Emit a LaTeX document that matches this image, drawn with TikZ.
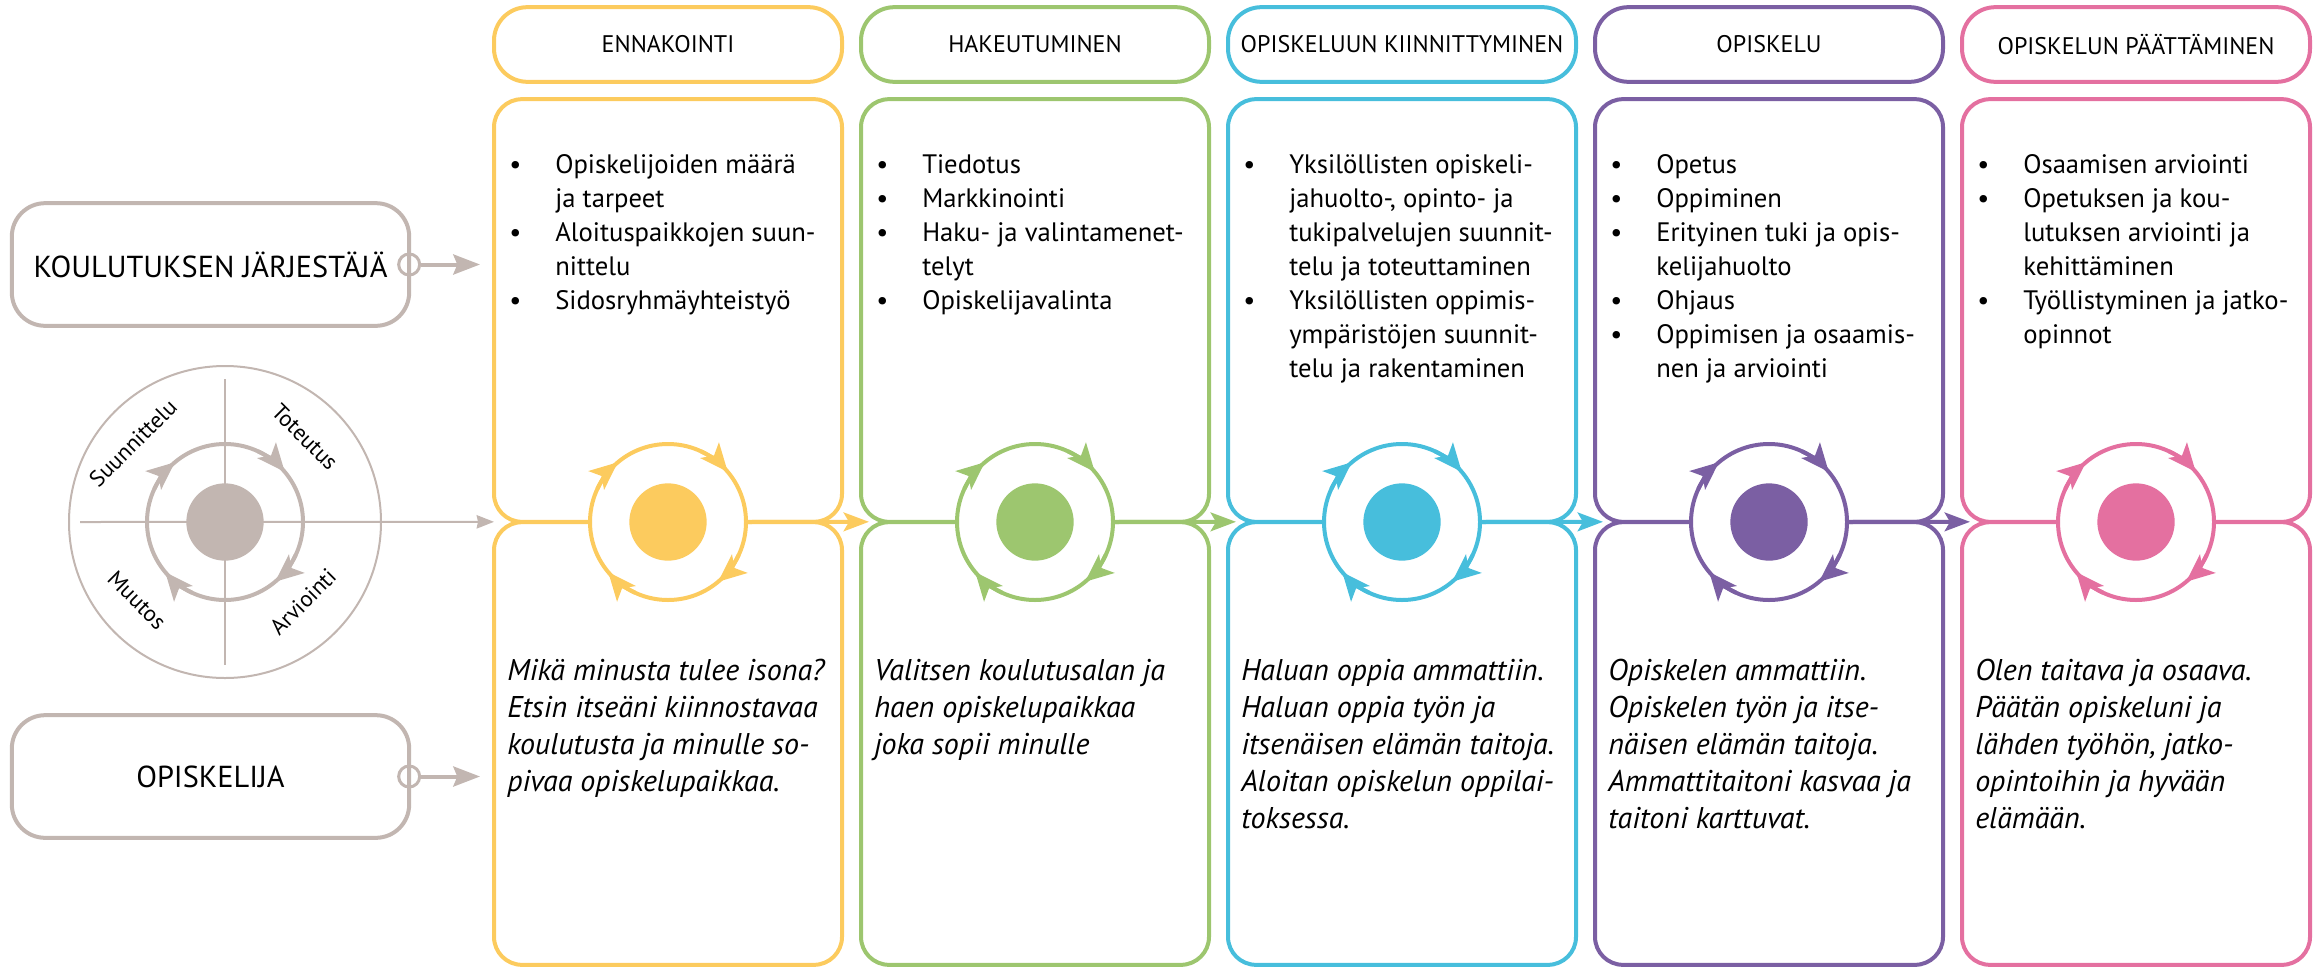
\documentclass[tikz,border=0pt]{standalone}
\usepackage{fontspec}
\setmainfont{PT Sans}
\usetikzlibrary{arrows.meta}

\definecolor{ennacol}{RGB}{252,203,94}
\definecolor{hakucol}{RGB}{157,198,111}
\definecolor{kiincol}{RGB}{71,190,220}
\definecolor{opiscol}{RGB}{123,95,163}
\definecolor{paatcol}{RGB}{228,112,160}
\definecolor{harmaa}{RGB}{194,182,177}

\tikzset{
  otsikko/.style={draw, rounded corners=25pt, line width=3pt, minimum width=261pt, minimum height=56pt, inner sep=0pt, outer sep=0pt, font=\fontsize{18}{22}\selectfont},
  laatikko/.style={draw, rounded corners=21pt, line width=3pt, minimum width=261pt, inner sep=0pt, outer sep=0pt},
  rengas/.style={circle, draw, fill=white, line width=3pt, minimum size=117pt, inner sep=0pt, outer sep=0pt},
  pallo/.style={circle, fill, minimum size=58pt, inner sep=0pt},
  kaari/.style={line width=3pt, -{Stealth[length=21pt,width=18pt,inset=5pt]}},
  nuoli/.style={line width=3pt, -{Stealth[length=19pt,width=14pt,inset=4pt]}, shorten >=-6pt},
  luettelo/.style={anchor=base west, inner sep=0pt, font=\fontsize{20}{25.5}\selectfont},
  kuvaus/.style={anchor=base west, inner sep=0pt, font=\fontsize{22.5}{27.75}\selectfont\itshape},
  toimija/.style={draw=harmaa, rounded corners=25pt, line width=3pt, minimum width=298pt, minimum height=92pt, inner sep=0pt, outer sep=0pt, font=\fontsize{22.75}{26}\selectfont},
  vaihe/.style={inner sep=0pt, font=\fontsize{17}{20}\selectfont},
}

\begin{document}
\begin{tikzpicture}[x=0.75pt,y=0.75pt,yscale=-1,xscale=1]
\useasboundingbox (0,0) rectangle (2323,971);

% vaiheiden sarakkeet
\foreach \k/\x/\vari/\nimi in {1/668/ennacol/ENNAKOINTI, 2/1035/hakucol/HAKEUTUMINEN, 3/1402/kiincol/OPISKELUUN KIINNITTYMINEN, 4/1769/opiscol/OPISKELU, 5/2136/paatcol/OPISKELUN PÄÄTTÄMINEN} {
  \node[otsikko, draw=\vari] (h\k) at (\x,44.5) {\nimi};
  \node[laatikko, draw=\vari, minimum height=317pt] (u\k) at (\x,310.5) {};
  \node[laatikko, draw=\vari, minimum height=332pt] (l\k) at (\x,743.5) {};
  \node[rengas, draw=\vari] (r\k) at (\x,522) {};
  \node[pallo, fill=\vari] (d\k) at (r\k) {};
  \foreach \a in {25,115,205,295}
    \draw[kaari, \vari] ([shift={(\a:78)}]r\k.center) arc[start angle=\a, end angle=\a+25, radius=78];
}

\draw[nuoli, ennacol] (r1.east) -- (u2.south west);
\draw[nuoli, hakucol] (r2.east) -- (u3.south west);
\draw[nuoli, kiincol] (r3.east) -- (u4.south west);
\draw[nuoli, opiscol] (r4.east) -- (u5.south west);

% suunnitteluympyra
\node[circle, draw=harmaa, line width=1.5pt, minimum size=234pt, inner sep=0pt] (pdca) at (225,522) {};
\coordinate (alku) at (80,522);
\draw[harmaa, line width=1.5pt] (225,379) -- (225,665);
\draw[harmaa, line width=1.5pt, -{Stealth[length=13pt,width=10pt,inset=1pt]}] (alku) -- (u1.south west);
\node[rengas, draw=harmaa, fill=none] (r0) at (225,522) {};
\node[pallo, fill=harmaa] (d0) at (r0) {};
\foreach \a in {25,115,205,295}
  \draw[kaari, harmaa] ([shift={(\a:78)}]r0.center) arc[start angle=\a, end angle=\a+25, radius=78];
\node[vaihe, rotate=45] (suun) at (133,443) {Suunnittelu};
\node[vaihe, rotate=-45] (tote) at (305,437) {Toteutus};
\node[vaihe, rotate=-45] (muut) at (137,600) {Muutos};
\node[vaihe, rotate=45] (arvi) at (303,602) {Arviointi};

% toimijat
\node[toimija] (kj) at (210.5,264.5) {KOULUTUKSEN JÄRJESTÄJÄ};
\node[toimija] (op) at (210.5,776.5) {OPISKELIJA};
\node[circle, draw=harmaa, line width=2.25pt, minimum size=15.75pt, inner sep=0pt] (kjp) at (kj.east) {};
\node[circle, draw=harmaa, line width=2.25pt, minimum size=15.75pt, inner sep=0pt] (opp) at (op.east) {};
\draw[harmaa, line width=3pt, -{Stealth[length=20pt,width=15pt,inset=3pt]}, shorten >=10.5pt] (kjp.east) -- (kjp.east -| u1.west);
\draw[harmaa, line width=3pt, -{Stealth[length=20pt,width=15pt,inset=3pt]}, shorten >=10.5pt] (opp.east) -- (opp.east -| l1.west);

% luettelot
\node[luettelo] (t1) at (509,173) {\begin{tabular}[t]{@{}p{34.5pt}@{}l@{}}
\textbullet & Opiskelijoiden määrä\\
 & ja tarpeet\\
\textbullet & Aloituspaikkojen suun-\\
 & nittelu\\
\textbullet & Sidosryhmäyhteistyö
\end{tabular}};
\node[luettelo] (t2) at (876,173) {\begin{tabular}[t]{@{}p{34.5pt}@{}l@{}}
\textbullet & Tiedotus\\
\textbullet & Markkinointi\\
\textbullet & Haku- ja valintamenet-\\
 & telyt\\
\textbullet & Opiskelijavalinta
\end{tabular}};
\node[luettelo] (t3) at (1243,173) {\begin{tabular}[t]{@{}p{34.5pt}@{}l@{}}
\textbullet & Yksilöllisten opiskeli-\\
 & jahuolto-, opinto- ja\\
 & tukipalvelujen suunnit-\\
 & telu ja toteuttaminen\\
\textbullet & Yksilöllisten oppimis-\\
 & ympäristöjen suunnit-\\
 & telu ja rakentaminen
\end{tabular}};
\node[luettelo] (t4) at (1610,173) {\begin{tabular}[t]{@{}p{34.5pt}@{}l@{}}
\textbullet & Opetus\\
\textbullet & Oppiminen\\
\textbullet & Erityinen tuki ja opis-\\
 & kelijahuolto\\
\textbullet & Ohjaus\\
\textbullet & Oppimisen ja osaamis-\\
 & nen ja arviointi
\end{tabular}};
\node[luettelo] (t5) at (1977,173) {\begin{tabular}[t]{@{}p{34.5pt}@{}l@{}}
\textbullet & Osaamisen arviointi\\
\textbullet & Opetuksen ja kou-\\
 & lutuksen arviointi ja\\
 & kehittäminen\\
\textbullet & Työllistyminen ja jatko-\\
 & opinnot
\end{tabular}};

% opiskelijan kuvaukset
\node[kuvaus] (k1) at (507,680) {\begin{tabular}[t]{@{}l@{}}
Mikä minusta tulee isona?\\
Etsin itseäni kiinnostavaa\\
koulutusta ja minulle so-\\
pivaa opiskelupaikkaa.
\end{tabular}};
\node[kuvaus] (k2) at (874,680) {\begin{tabular}[t]{@{}l@{}}
Valitsen koulutusalan ja\\
haen opiskelupaikkaa\\
joka sopii minulle
\end{tabular}};
\node[kuvaus] (k3) at (1241,680) {\begin{tabular}[t]{@{}l@{}}
Haluan oppia ammattiin.\\
Haluan oppia työn ja\\
itsenäisen elämän taitoja.\\
Aloitan opiskelun oppilai-\\
toksessa.
\end{tabular}};
\node[kuvaus] (k4) at (1608,680) {\begin{tabular}[t]{@{}l@{}}
Opiskelen ammattiin.\\
Opiskelen työn ja itse-\\
näisen elämän taitoja.\\
Ammattitaitoni kasvaa ja\\
taitoni karttuvat.
\end{tabular}};
\node[kuvaus] (k5) at (1975,680) {\begin{tabular}[t]{@{}l@{}}
Olen taitava ja osaava.\\
Päätän opiskeluni ja\\
lähden työhön, jatko-\\
opintoihin ja hyvään\\
elämään.
\end{tabular}};
\end{tikzpicture}
\end{document}
